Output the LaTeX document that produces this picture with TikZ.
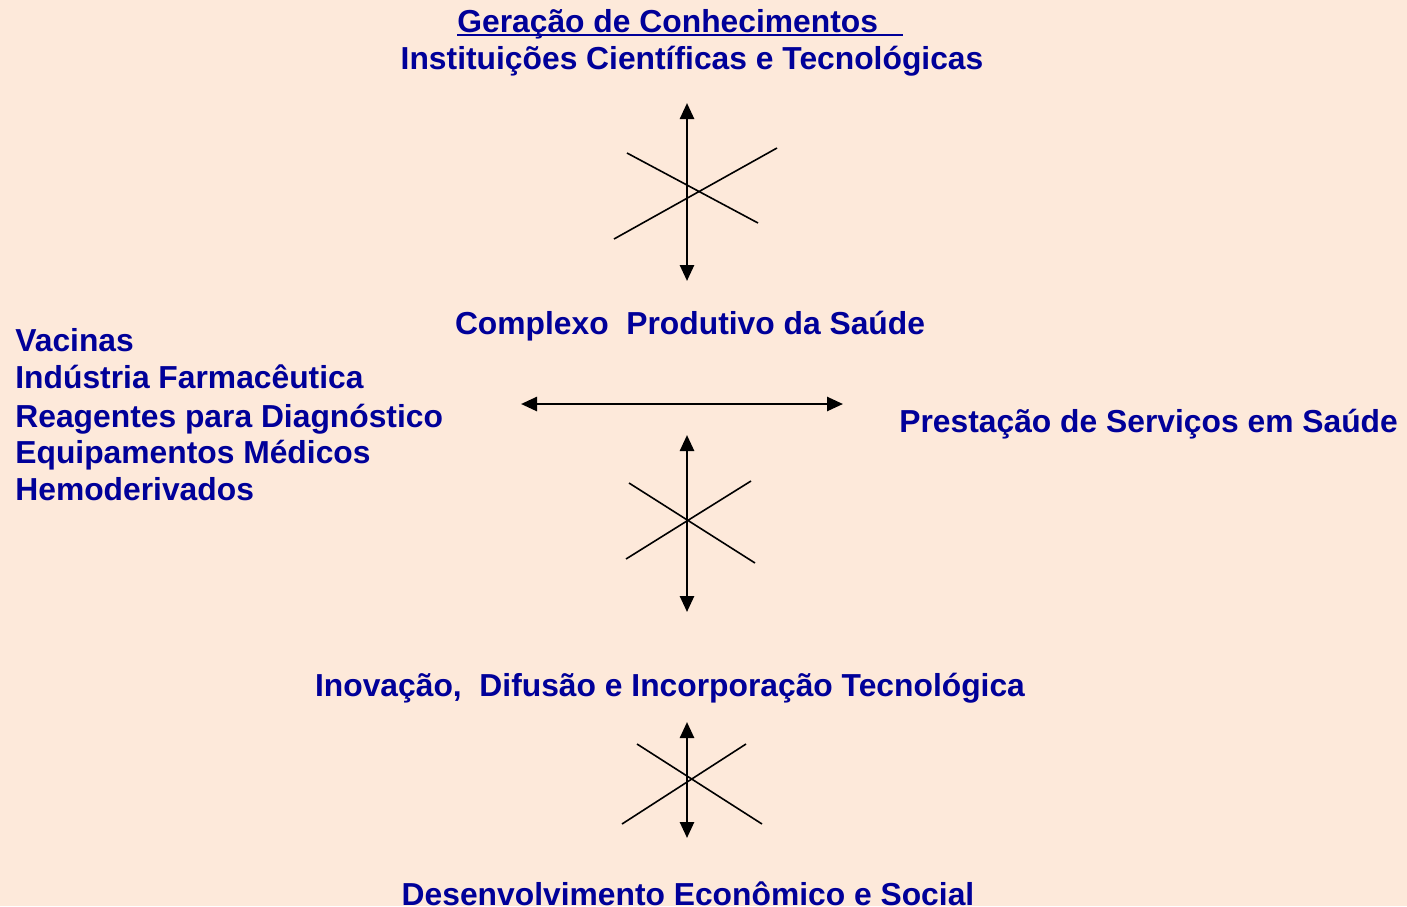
\documentclass[tikz,border=0pt]{standalone}
\usepackage{fontspec}
\setmainfont{Liberation Sans}
\usetikzlibrary{arrows.meta}
\definecolor{bgpeach}{RGB}{253,233,218}
\definecolor{textblue}{RGB}{0,0,153}

\begin{document}
\begin{tikzpicture}[x=0.5pt,y=-0.5pt,>={Triangle[length=8pt,width=7pt]}]
\tikzset{LabelStyle/.style = {inner sep=0pt,text=textblue,
                              font=\fontsize{15.9}{19}\selectfont\bfseries},
         ArrowStyle/.style = {<->,line width=1.3pt},
         CrossStyle/.style = {line width=0.8pt}}
\useasboundingbox (0,0) rectangle (1407,906);
\clip (0,0) rectangle (1407,906);
\fill[bgpeach] (0,0) rectangle (1407,906);
% texts
\node[LabelStyle,anchor=base west] (gen) at (457,32)
     {\makebox[223pt][l]{Geração de Conhecimentos}\llap{\rule[-2.2pt]{223pt}{1.1pt}}};
\node[LabelStyle,anchor=base] (inst) at (692,69)
     {Instituições Científicas e Tecnológicas};
\node[LabelStyle,anchor=base] (cps) at (690,334)
     {Complexo\ \ Produtivo da Saúde};
\node[LabelStyle,anchor=base west] (vac) at (15,351) {Vacinas};
\node[LabelStyle,anchor=base west] (ind) at (15,388) {Indústria Farmacêutica};
\node[LabelStyle,anchor=base west] (rea) at (15,427) {Reagentes para Diagnóstico};
\node[LabelStyle,anchor=base west] (equ) at (15,463) {Equipamentos Médicos};
\node[LabelStyle,anchor=base west] (hem) at (15,500) {Hemoderivados};
\node[LabelStyle,anchor=base west] (pre) at (899,432)
     {Prestação de Serviços em Saúde};
\node[LabelStyle,anchor=base] (ino) at (670,696)
     {Inovação,\ \ Difusão e Incorporação Tecnológica};
\node[LabelStyle,anchor=base] (des) at (688,905)
     {Desenvolvimento Econômico e Social};
% arrow ends
\coordinate (a1t) at (687,103); \coordinate (a1b) at (687,281);
\coordinate (hl) at (521,404);  \coordinate (hr) at (843,404);
\coordinate (a2t) at (687,435); \coordinate (a2b) at (687,612);
\coordinate (a3t) at (687,722); \coordinate (a3b) at (687,838);
\draw[ArrowStyle] (a1t) -- (a1b);
\draw[ArrowStyle] (hl) -- (hr);
\draw[ArrowStyle] (a2t) -- (a2b);
\draw[ArrowStyle] (a3t) -- (a3b);
% crosses
\draw[CrossStyle] (627,153) -- (758,223) (614,239) -- (777,148);
\draw[CrossStyle] (629,483) -- (755,563) (626,559) -- (751,481);
\draw[CrossStyle] (637,744) -- (762,824) (622,824) -- (746,744);
\end{tikzpicture}
\end{document}
